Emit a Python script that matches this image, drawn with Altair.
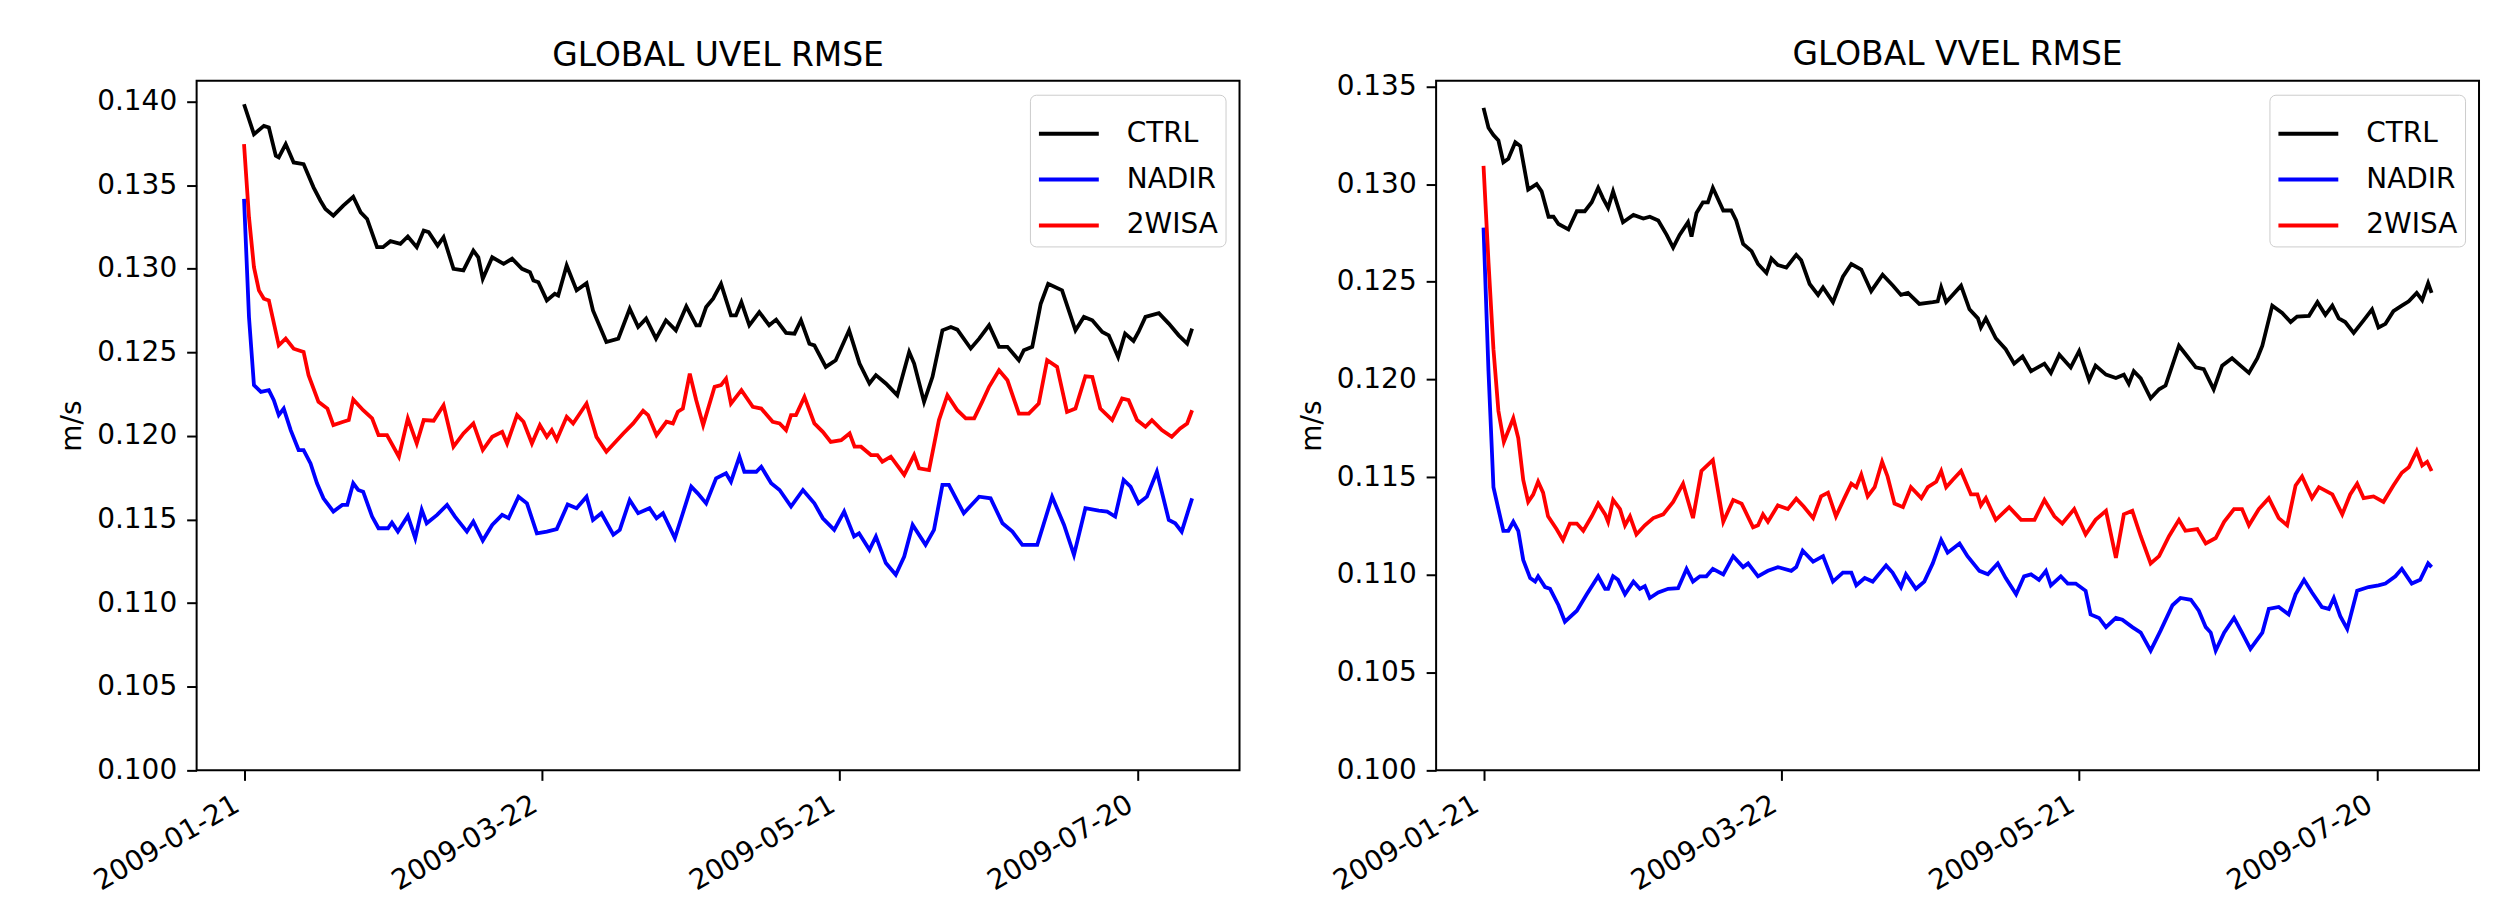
import altair as alt
import pandas as pd

START_DATE = "2009-01-21"
SERIES = ["CTRL", "NADIR", "2WISA"]
COLORS = ["#000000", "#0000ff", "#ff0000"]
TICK_DATES = ["2009-01-21", "2009-03-22", "2009-05-21", "2009-07-20"]
UVEL_YTICKS = [0.100, 0.105, 0.110, 0.115, 0.120, 0.125, 0.130, 0.135, 0.140]
VVEL_YTICKS = [0.100, 0.105, 0.110, 0.115, 0.120, 0.125, 0.130, 0.135]
TITLES = ["GLOBAL UVEL RMSE", "GLOBAL VVEL RMSE"]
Y_TITLE = "m/s"

# ---------------- GLOBAL UVEL RMSE ----------------
UVEL_CTRL_DAYS = [0, 2, 4, 5, 6.4, 7, 8.4, 10, 12, 14, 15.4, 16.4, 18, 20, 22, 23.5, 24.8, 26.8, 28, 29.5,
                  31.5, 33, 34.8, 36.2, 37.2, 39, 40.2, 42.2, 44.2, 46.2, 47.2, 48.1, 50, 52.3, 54, 56, 57.6,
                  58.3, 59.3, 61, 62.6, 63.3, 65, 67, 69, 70.3, 73, 75.4, 77.7, 79.4, 81, 83, 85, 87, 89.1,
                  91.1, 91.8, 93.1, 94.5, 96.1, 98.1, 99.1, 100.2, 101.8, 103.8, 105.8, 107.2, 109.2, 110.9,
                  112.2, 113.9, 114.9, 117.2, 119.2, 121.9, 124, 126, 127.3, 129.3, 131.6, 134, 135, 137,
                  138.7, 140.7, 142.4, 143.7, 146.4, 148.1, 150.1, 152.1, 153.8, 156.1, 157.1, 158.8, 160.5,
                  162, 164.8, 167.5, 169.2, 170.9, 172.9, 174.2, 176.1, 177.5, 179.2, 180.2, 181.6, 184.3,
                  186.3, 188.3, 190, 191]
UVEL_CTRL = [0.13984, 0.13805, 0.13855, 0.13845, 0.13676, 0.13666, 0.13746, 0.13636, 0.13626, 0.13487,
             0.13407, 0.13358, 0.13318, 0.13378, 0.13431, 0.13338, 0.13298, 0.13129, 0.13129, 0.13165,
             0.13149, 0.13193, 0.13129, 0.13229, 0.13219, 0.13139, 0.13189, 0.13000, 0.12990, 0.13109,
             0.13069, 0.12940, 0.13069, 0.13030, 0.13060, 0.13000, 0.12980, 0.12930, 0.12920, 0.12811,
             0.12851, 0.12840, 0.13020, 0.12871, 0.12914, 0.12751, 0.12562, 0.12582, 0.12761, 0.12652,
             0.12702, 0.12582, 0.12692, 0.12632, 0.12775, 0.12662, 0.12662, 0.12771, 0.12821, 0.12910,
             0.12721, 0.12721, 0.12801, 0.12662, 0.12741, 0.12662, 0.12696, 0.12616, 0.12612, 0.12692,
             0.12552, 0.12542, 0.12413, 0.12453, 0.12632, 0.12433, 0.12314, 0.12364, 0.12314, 0.12244,
             0.12503, 0.12433, 0.12204, 0.12354, 0.12632, 0.12652, 0.12636, 0.12523, 0.12582, 0.12662,
             0.12533, 0.12533, 0.12453, 0.12513, 0.12533, 0.12791, 0.12910, 0.12871, 0.12632, 0.12712,
             0.12692, 0.12622, 0.12602, 0.12473, 0.12612, 0.12568, 0.12622, 0.12712, 0.12735, 0.12672,
             0.12602, 0.12553, 0.12642]

UVEL_NADIR_DAYS = [0, 1, 2, 3.4, 5, 6, 7, 8, 9.4, 11, 12, 13.4, 14.7, 16, 18, 19.8, 20.8, 22, 23, 24, 25.8,
                   27.1, 29, 29.8, 31, 33, 34.5, 35.8, 36.8, 38.9, 40.9, 42.5, 44.9, 46.2, 48.1, 50, 52,
                   53.3, 55.3, 57, 59, 61, 63, 65.2, 67, 69, 70.3, 72, 74.4, 75.7, 77.7, 79.4, 81.7, 83.1,
                   84.4, 86.8, 88.4, 90.1, 91.4, 93.1, 95.1, 97.1, 98.1, 99.8, 100.8, 103.2, 104.2, 106.2,
                   107.9, 110.2, 112.6, 114.9, 116.6, 118.9, 120.9, 122.9, 123.9, 126, 127.3, 129.3, 131.3,
                   133, 134.7, 137.3, 139, 140.7, 142, 145, 148.1, 150.4, 152.8, 154.8, 156.8, 159.8, 162.8,
                   165.2, 167.2, 169.5, 172.2, 173.9, 175.5, 177.2, 178.6, 180.2, 181.9, 183.9, 186.3, 187.6,
                   188.9, 191]
UVEL_NADIR = [0.13418, 0.12711, 0.12304, 0.12264, 0.12274, 0.12214, 0.12125, 0.12164, 0.12035, 0.11916,
              0.11916, 0.11836, 0.11717, 0.11627, 0.11548, 0.11588, 0.11588, 0.11717, 0.11677, 0.11667,
              0.11518, 0.11448, 0.11448, 0.11482, 0.11428, 0.11522, 0.11389, 0.11558, 0.11478, 0.11528,
              0.11588, 0.11518, 0.11428, 0.11488, 0.11375, 0.11468, 0.11528, 0.11508, 0.11637, 0.11597,
              0.11418, 0.11428, 0.11443, 0.11590, 0.11568, 0.11637, 0.11498, 0.11538, 0.11409, 0.11438,
              0.11617, 0.11538, 0.11568, 0.11508, 0.11538, 0.11389, 0.11538, 0.11697, 0.11657, 0.11597,
              0.11747, 0.11777, 0.11727, 0.11876, 0.11786, 0.11786, 0.11816, 0.11717, 0.11677, 0.11578,
              0.11677, 0.11597, 0.11508, 0.11438, 0.11548, 0.11399, 0.11418, 0.11319, 0.11399, 0.11240,
              0.11170, 0.11279, 0.11468, 0.11349, 0.11438, 0.11707, 0.11707, 0.11538, 0.11637, 0.11627,
              0.11478, 0.11428, 0.11349, 0.11349, 0.11637, 0.11468, 0.11289, 0.11568, 0.11554, 0.11548,
              0.11518, 0.11737, 0.11697, 0.11597, 0.11637, 0.11786, 0.11498, 0.11478, 0.11428, 0.11627]

UVEL_2WISA_DAYS = [0, 1, 2, 3, 4, 5, 7, 8.4, 10, 12, 13, 15, 16.8, 18, 20, 21.1, 22, 24, 25.8, 27.1, 28.8,
                   31.2, 33, 34.8, 36.2, 38.2, 40.2, 42.2, 44.2, 46.2, 48.1, 50, 52, 53, 55, 56.3, 58, 59.6,
                   61, 62, 63, 65, 66.3, 69, 71, 73, 76.4, 78.4, 80.4, 81.4, 83.1, 85.1, 86.4, 87.4, 88.4,
                   89.8, 91.1, 92.5, 94.8, 96.1, 97.1, 98.1, 100.2, 102.5, 104.2, 106.5, 107.9, 109.2, 110.2,
                   111.2, 112.9, 114.9, 116.6, 118.2, 120.3, 122, 123, 124.3, 126.3, 127.6, 128.6, 130.3, 133,
                   135, 136, 138, 140, 141.7, 143.7, 145.4, 147.1, 148.7, 150.1, 152.1, 153.8, 156.1, 158.1,
                   160.1, 161.8, 163.8, 165.8, 167.5, 169.5, 170.9, 172.5, 174.9, 176.9, 178.2, 179.9, 181.6,
                   182.9, 184.9, 186.9, 188.6, 190, 191]
UVEL_2WISA = [0.13746, 0.13308, 0.13010, 0.12871, 0.12821, 0.12811, 0.12542, 0.12582, 0.12522, 0.12503,
              0.12364, 0.12204, 0.12164, 0.12065, 0.12085, 0.12095, 0.12218, 0.12154, 0.12105, 0.12005,
              0.12005, 0.11876, 0.12105, 0.11955, 0.12095, 0.12091, 0.12184, 0.11936, 0.12015, 0.12075,
              0.11916, 0.11995, 0.12025, 0.11955, 0.12125, 0.12085, 0.11955, 0.12065, 0.11995, 0.12035,
              0.11977, 0.12115, 0.12075, 0.12194, 0.11995, 0.11906, 0.12015, 0.12075, 0.12151, 0.12125,
              0.12005, 0.12085, 0.12075, 0.12145, 0.12164, 0.12373, 0.12214, 0.12065, 0.12294, 0.12304,
              0.12343, 0.12194, 0.12274, 0.12174, 0.12164, 0.12085, 0.12075, 0.12035, 0.12125, 0.12125,
              0.12234, 0.12075, 0.12025, 0.11965, 0.11975, 0.12015, 0.11936, 0.11936, 0.11886, 0.11886,
              0.11846, 0.11876, 0.11767, 0.11886, 0.11806, 0.11796, 0.12095, 0.12244, 0.12154, 0.12105,
              0.12105, 0.12204, 0.12294, 0.12393, 0.12333, 0.12134, 0.12134, 0.12194, 0.12453, 0.12413,
              0.12144, 0.12164, 0.12357, 0.12353, 0.12164, 0.12095, 0.12224, 0.12214, 0.12095, 0.12055,
              0.12095, 0.12035, 0.11995, 0.12045, 0.12075, 0.12154]

# ---------------- GLOBAL VVEL RMSE ----------------
VVEL_CTRL_DAYS = [0, 1, 2, 3, 4, 5, 6.4, 7.4, 9, 10.7, 11.7, 13.1, 14.1, 15.1, 17.1, 18.8, 20.4, 21.8, 23.1,
                  24.1, 25.1, 26.1, 28.1, 30.2, 32.2, 33.5, 35.2, 36.9, 38.2, 39.5, 41.2, 41.9, 42.9, 44.2,
                  45.2, 46.2, 48.3, 49.9, 50.9, 52.3, 54, 55.3, 57, 58, 59.3, 61, 63, 64, 65.7, 67.4, 68.4,
                  70.4, 72.4, 74.1, 76.1, 78.1, 80.4, 82.5, 84.1, 85.5, 87.8, 90.5, 91.5, 92.2, 93.2, 94.5,
                  96.2, 97.9, 99.6, 100.2, 101.2, 103.2, 105.2, 106.9, 108.6, 110.3, 113, 114.3, 116, 118.3,
                  120, 122, 123.3, 125.4, 127.4, 129, 130, 131, 132.4, 134.4, 136.1, 137.4, 140.1, 141.8,
                  143.5, 145.1, 147.1, 148.8, 150.8, 152.5, 154.2, 155.9, 156.9, 158.9, 160.9, 162.6, 163.9,
                  166.3, 168, 169.6, 171, 172.3, 173.6, 175.3, 177.3, 179, 180.3, 181.7, 183.3, 185, 186.4,
                  188, 189.1, 190.3, 191]
VVEL_CTRL = [0.13390, 0.13288, 0.13251, 0.13223, 0.13112, 0.13130, 0.13214, 0.13195, 0.12972, 0.13000,
             0.12963, 0.12833, 0.12833, 0.12796, 0.12768, 0.12861, 0.12861, 0.12907, 0.12981, 0.12926,
             0.12879, 0.12963, 0.12805, 0.12842, 0.12824, 0.12833, 0.12814, 0.12740, 0.12675, 0.12740,
             0.12805, 0.12731, 0.12852, 0.12907, 0.12907, 0.12981, 0.12865, 0.12865, 0.12814, 0.12694,
             0.12657, 0.12591, 0.12545, 0.12619, 0.12586, 0.12573, 0.12638, 0.12610, 0.12489, 0.12433,
             0.12471, 0.12396, 0.12526, 0.12591, 0.12563, 0.12452, 0.12536, 0.12480, 0.12433, 0.12443,
             0.12387, 0.12396, 0.12400, 0.12471, 0.12396, 0.12433, 0.12480, 0.12359, 0.12313, 0.12266,
             0.12313, 0.12211, 0.12155, 0.12081, 0.12118, 0.12043, 0.12081, 0.12034, 0.12127, 0.12062,
             0.12146, 0.11997, 0.12071, 0.12025, 0.12008, 0.12025, 0.11978, 0.12043, 0.12006, 0.11904,
             0.11950, 0.11969, 0.12173, 0.12118, 0.12062, 0.12053, 0.11950, 0.12071, 0.12109, 0.12071,
             0.12034, 0.12109, 0.12173, 0.12378, 0.12341, 0.12294, 0.12322, 0.12326, 0.12396, 0.12331,
             0.12378, 0.12313, 0.12294, 0.12238, 0.12303, 0.12359, 0.12266, 0.12285, 0.12350, 0.12378,
             0.12400, 0.12443, 0.12406, 0.12493, 0.12443]

VVEL_NADIR_DAYS = [0, 1, 2, 3, 4, 5, 6, 7, 8, 9.4, 10.4, 11, 12.4, 13.4, 15.1, 16.4, 18.8, 20.8, 23.1, 24.5,
                   25.1, 26.1, 27.1, 28.5, 30.2, 31.5, 32.5, 33.5, 35.2, 37.2, 39.2, 40.9, 42.2, 43.6, 44.9,
                   46.2, 48.3, 50.3, 52.3, 53.3, 55.3, 57.3, 59.3, 62, 63, 64.3, 66.4, 68.4, 70.4, 72.4, 74.1,
                   75.1, 76.8, 78.4, 81.1, 82.4, 84.1, 85.1, 87.1, 88.8, 90.5, 92.2, 93.5, 95.9, 97.5, 99.9,
                   101.6, 103.6, 105.2, 107.3, 108.9, 110.3, 111.9, 113.3, 114.3, 116.3, 117.7, 119.3, 121.3,
                   122.3, 124, 125.4, 127.4, 128.7, 130.7, 132.4, 134.4, 136.4, 138.8, 140.4, 142.5, 144.1,
                   145.5, 146.5, 147.5, 149.2, 151.2, 152.8, 154.5, 156.9, 158.2, 160.2, 162.2, 163.6, 165.3,
                   166.9, 168.9, 170.3, 171.3, 172.6, 174, 176, 178.3, 180.3, 181.7, 183.7, 185, 187, 188.7,
                   190.3, 191]
VVEL_NADIR = [0.12777, 0.12043, 0.11449, 0.11337, 0.11226, 0.11226, 0.11272, 0.11226, 0.11077, 0.10984,
              0.10966, 0.10993, 0.10938, 0.10929, 0.10845, 0.10761, 0.10817, 0.10901, 0.10993, 0.10929,
              0.10929, 0.10993, 0.10975, 0.10901, 0.10966, 0.10929, 0.10943, 0.10882, 0.10910, 0.10929,
              0.10932, 0.11031, 0.10966, 0.10993, 0.10993, 0.11031, 0.11003, 0.11096, 0.11040, 0.11059,
              0.10993, 0.11021, 0.11040, 0.11021, 0.11040, 0.11124, 0.11068, 0.11096, 0.10966, 0.11012,
              0.11012, 0.10947, 0.10984, 0.10966, 0.11049, 0.11012, 0.10938, 0.11003, 0.10929, 0.10966,
              0.11059, 0.11179, 0.11114, 0.11161, 0.11096, 0.11021, 0.11003, 0.11059, 0.10984, 0.10901,
              0.10993, 0.11003, 0.10975, 0.11021, 0.10947, 0.10993, 0.10956, 0.10956, 0.10919, 0.10798,
              0.10780, 0.10733, 0.10780, 0.10771, 0.10733, 0.10705, 0.10613, 0.10715, 0.10845, 0.10882,
              0.10873, 0.10817, 0.10733, 0.10705, 0.10613, 0.10705, 0.10780, 0.10705, 0.10622, 0.10705,
              0.10826, 0.10836, 0.10798, 0.10901, 0.10975, 0.10910, 0.10836, 0.10826, 0.10882, 0.10789,
              0.10724, 0.10919, 0.10938, 0.10947, 0.10956, 0.10993, 0.11031, 0.10956, 0.10975, 0.11059,
              0.11040]

VVEL_2WISA_DAYS = [0, 1, 2, 3, 4.1, 6, 7, 8, 9, 10, 11, 12, 13, 14.7, 16, 17.4, 18.8, 20.1, 21.8, 23.1, 24.5,
                   25.1, 26.1, 27.5, 28.5, 29.5, 30.8, 32.5, 34.2, 36.2, 38.2, 40.2, 42.2, 43.9, 46.2, 48.3,
                   50.3, 52, 54.3, 55.3, 56.3, 57.3, 59.3, 61.3, 63, 64.5, 66.4, 68, 69.4, 71, 72.7, 74.1,
                   75.1, 76.1, 77.4, 78.8, 80.3, 81.4, 82.8, 84.5, 86.1, 88.2, 89.5, 91.2, 92.2, 93.2, 94.5,
                   96.2, 98.2, 99.5, 100.2, 101.2, 103.2, 105.9, 108.3, 111, 113, 115, 116.6, 119, 121.3,
                   123.3, 125.4, 127.4, 129, 130.7, 132.4, 134.4, 136.1, 138.1, 140.1, 141.4, 143.8, 145.5,
                   147.5, 149.2, 151.2, 152.8, 154.2, 156.2, 158.2, 160.2, 161.9, 163.6, 164.9, 166.9, 168.3,
                   171, 173, 174.6, 176, 177.3, 179.3, 181.3, 183.3, 185, 186.4, 188, 189.1, 190.1, 191]
VVEL_2WISA = [0.13093, 0.12601, 0.12155, 0.11839, 0.11681, 0.11802, 0.11700, 0.11486, 0.11374, 0.11411,
              0.11477, 0.11421, 0.11300, 0.11235, 0.11179, 0.11263, 0.11263, 0.11226, 0.11300, 0.11365,
              0.11310, 0.11272, 0.11384, 0.11337, 0.11254, 0.11300, 0.11207, 0.11254, 0.11291, 0.11310,
              0.11374, 0.11467, 0.11291, 0.11532, 0.11588, 0.11272, 0.11384, 0.11365, 0.11244, 0.11254,
              0.11310, 0.11272, 0.11356, 0.11337, 0.11390, 0.11350, 0.11291, 0.11402, 0.11421, 0.11300,
              0.11393, 0.11467, 0.11449, 0.11514, 0.11402, 0.11449, 0.11579, 0.11504, 0.11365, 0.11347,
              0.11449, 0.11393, 0.11449, 0.11477, 0.11532, 0.11449, 0.11486, 0.11532, 0.11412, 0.11412,
              0.11356, 0.11393, 0.11282, 0.11347, 0.11282, 0.11282, 0.11384, 0.11300, 0.11263, 0.11337,
              0.11207, 0.11282, 0.11328, 0.11087, 0.11310, 0.11328, 0.11198, 0.11059, 0.11096, 0.11198,
              0.11282, 0.11226, 0.11235, 0.11161, 0.11189, 0.11272, 0.11337, 0.11337, 0.11254, 0.11337,
              0.11393, 0.11291, 0.11254, 0.11458, 0.11504, 0.11393, 0.11449, 0.11412, 0.11310, 0.11412,
              0.11467, 0.11393, 0.11402, 0.11374, 0.11458, 0.11523, 0.11551, 0.11634, 0.11560, 0.11579,
              0.11532]


def series_frame(days, vals, name):
    dates = pd.Timestamp(START_DATE) + pd.to_timedelta(days, unit="D")
    return pd.DataFrame({"date": dates, "value": vals, "series": name})


def to_dt(ts):
    return alt.DateTime(year=int(ts.year), month=int(ts.month), date=int(ts.day),
                        hours=int(ts.hour), minutes=int(ts.minute))


def panel(parts, title, yticks, title_offset):
    df = pd.concat([series_frame(d, v, n) for d, v, n in parts], ignore_index=True)
    start = pd.Timestamp(START_DATE)
    dmin = min(min(d) for d, _, _ in parts)
    dmax = max(max(d) for d, _, _ in parts)
    span = dmax - dmin
    lo = start + pd.to_timedelta(dmin - 0.05 * span, unit="D")
    hi = start + pd.to_timedelta(dmax + 0.05 * span, unit="D")
    vmin = df["value"].min()
    vmax = df["value"].max()
    ytop = vmax + 0.05 * (vmax - vmin)
    return alt.Chart(df, title=alt.TitleParams(title, offset=title_offset)).mark_line(strokeWidth=3.8).encode(
        x=alt.X("date:T", title=None,
                scale=alt.Scale(domain=[to_dt(lo), to_dt(hi)]),
                axis=alt.Axis(values=[to_dt(pd.Timestamp(t)) for t in TICK_DATES],
                              format="%Y-%m-%d", labelAngle=330, labelAlign="right",
                              labelBaseline="top", labelOffset=-14, labelFlush=False,
                              labelOverlap=False)),
        y=alt.Y("value:Q", title=Y_TITLE,
                scale=alt.Scale(domain=[0.1, ytop], nice=False, zero=False),
                axis=alt.Axis(values=yticks, format=".3f", labelOverlap=False)),
        color=alt.Color("series:N", sort=SERIES,
                        scale=alt.Scale(domain=SERIES, range=COLORS),
                        legend=alt.Legend(title=None, orient="top-right")),
    ).properties(width=1045, height=691)


left = panel([(UVEL_CTRL_DAYS, UVEL_CTRL, "CTRL"),
              (UVEL_NADIR_DAYS, UVEL_NADIR, "NADIR"),
              (UVEL_2WISA_DAYS, UVEL_2WISA, "2WISA")], TITLES[0], UVEL_YTICKS, 8)
right = panel([(VVEL_CTRL_DAYS, VVEL_CTRL, "CTRL"),
               (VVEL_NADIR_DAYS, VVEL_NADIR, "NADIR"),
               (VVEL_2WISA_DAYS, VVEL_2WISA, "2WISA")], TITLES[1], VVEL_YTICKS, 0)

chart = alt.hconcat(left, right, spacing=56).resolve_scale(
    x="independent", y="independent", color="independent"
).properties(
    padding={"left": 49, "top": 29, "right": 5, "bottom": 0}
).configure(
    font="DejaVu Sans", background="white"
).configure_view(
    stroke="black", strokeWidth=2
).configure_axis(
    domain=False, grid=False, tickColor="black", tickWidth=2, tickSize=10,
    labelFontSize=28, labelColor="black", labelPadding=10,
    titleFontSize=28, titleFontWeight="normal", titleColor="black", titlePadding=10
).configure_title(
    fontSize=33, fontWeight="normal", color="black", anchor="middle",
    baseline="alphabetic", frame="group"
).configure_legend(
    orient="top-right", offset=14, strokeColor="#cccccc", fillColor="rgba(255,255,255,0.8)",
    cornerRadius=6, padding=7, labelFontSize=28, labelColor="black",
    symbolType="stroke", symbolSize=3600, symbolStrokeWidth=4, rowPadding=0, labelOffset=26
)

chart.save("out.html", embed_options={"renderer": "svg", "actions": False})
